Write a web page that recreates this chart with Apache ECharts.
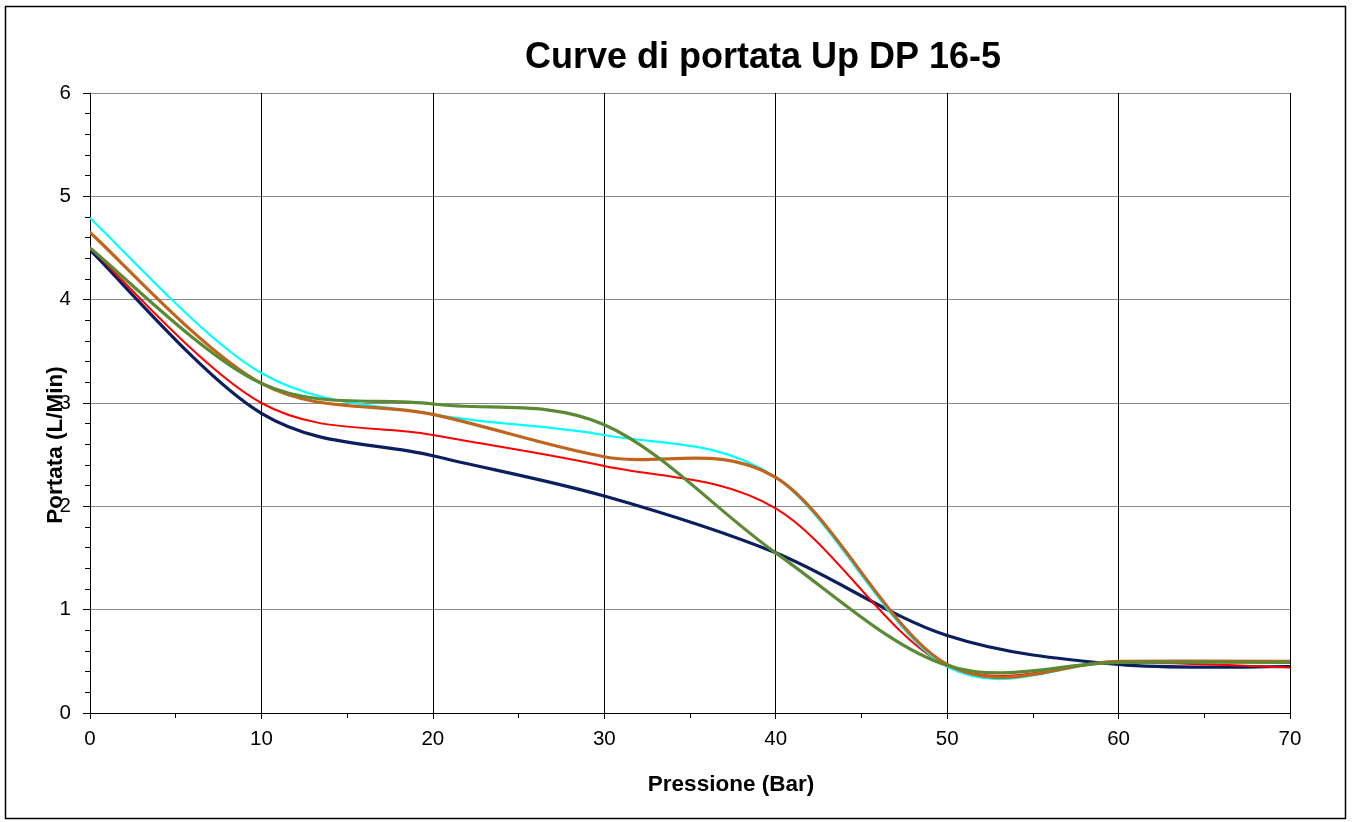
<!DOCTYPE html>
<html>
<head>
<meta charset="utf-8">
<script src="https://cdn.jsdelivr.net/npm/echarts@6/dist/echarts.min.js"></script>
<style>
html,body{margin:0;padding:0;background:#fff;}
#chart{width:1352px;height:822px;}
</style>
</head>
<body>
<div id="chart"></div>
<script>
const pressure = [0, 10, 20, 30, 40, 50, 60, 70];
const seriesNavy   = [4.48, 2.90, 2.49, 2.10, 1.55, 0.75, 0.47, 0.45];
const seriesRed    = [4.50, 3.00, 2.69, 2.39, 1.98, 0.46, 0.49, 0.44];
const seriesCyan   = [4.79, 3.29, 2.89, 2.69, 2.28, 0.45, 0.50, 0.50];
const seriesOrange = [4.65, 3.19, 2.89, 2.48, 2.28, 0.47, 0.50, 0.50];
const seriesGreen  = [4.50, 3.19, 2.99, 2.79, 1.55, 0.46, 0.49, 0.49];
const titleText = 'Curve di portata Up DP 16-5';
const xName = 'Pressione (Bar)';
const yName = 'Portata (L/Min)';

const pairs = arr => pressure.map((x, i) => [x, arr[i]]);

// Excel-style smoothed line: cubic Bezier segments with Catmull-Rom control points,
// positioned through the chart's own coordinate system (api.coord).
function curve(arr, color, width) {
  const data = pairs(arr);
  const n = data.length;
  return {
    type: 'custom',
    data: data,
    encode: { x: 0, y: 1 },
    clip: true,
    renderItem: function (params, api) {
      const i = params.dataIndex;
      if (i >= n - 1) return null;
      const pt = k => api.coord(data[Math.max(0, Math.min(n - 1, k))]);
      const a = pt(i - 1), b = pt(i), c = pt(i + 1), d = pt(i + 2);
      const t = 1 / 6;
      return {
        type: 'bezierCurve',
        shape: {
          x1: b[0], y1: b[1], x2: c[0], y2: c[1],
          cpx1: b[0] + (c[0] - a[0]) * t, cpy1: b[1] + (c[1] - a[1]) * t,
          cpx2: c[0] - (d[0] - b[0]) * t, cpy2: c[1] - (d[1] - b[1]) * t
        },
        style: { stroke: color, lineWidth: width, fill: null, lineCap: 'round' }
      };
    }
  };
}

const chart = echarts.init(document.getElementById('chart'));
chart.setOption({
  backgroundColor: '#fff',
  animation: false,
  grid: { left: 90, right: 62, top: 93, bottom: 109 },
  xAxis: {
    type: 'value', min: 0, max: 70, interval: 10,
    axisLine: { show: true, lineStyle: { color: '#000', width: 1 } },
    axisTick: { show: true, length: 6, lineStyle: { color: '#000' } },
    minorTick: { show: true, splitNumber: 2, length: 5, lineStyle: { color: '#000' } },
    splitLine: { show: true, lineStyle: { color: '#000', width: 1 } },
    axisLabel: { fontFamily: 'Liberation Sans, Arial', fontSize: 20.5, color: '#000', margin: 16 }
  },
  yAxis: {
    type: 'value', min: 0, max: 6, interval: 1,
    axisLine: { show: true, onZero: false, lineStyle: { color: '#000', width: 1 } },
    axisTick: { show: true, length: 7, lineStyle: { color: '#000' } },
    minorTick: { show: true, splitNumber: 5, length: 5, lineStyle: { color: '#000' } },
    splitLine: { show: true, lineStyle: { color: '#8c8c8c', width: 1 } },
    axisLabel: { fontFamily: 'Liberation Sans, Arial', fontSize: 20.5, color: '#000', margin: 19 }
  },
  graphic: [
    { type: 'rect', shape: { x: 5.5, y: 6.5, width: 1340, height: 812 },
      style: { fill: null, stroke: '#000', lineWidth: 1.5 }, silent: true, z: -1 },
    { type: 'text', x: 763, y: 58,
      style: { text: titleText, fontFamily: 'Liberation Sans, Arial', fontSize: 36, fontWeight: 'bold',
               fill: '#000', align: 'center', verticalAlign: 'middle' } },
    { type: 'text', x: 731, y: 785,
      style: { text: xName, fontFamily: 'Liberation Sans, Arial', fontSize: 22.5, fontWeight: 'bold',
               fill: '#000', align: 'center', verticalAlign: 'middle' } },
    { type: 'text', x: 56, y: 445, rotation: Math.PI / 2,
      style: { text: yName, fontFamily: 'Liberation Sans, Arial', fontSize: 22.5, fontWeight: 'bold',
               fill: '#000', align: 'center', verticalAlign: 'middle' } }
  ],
  series: [
    curve(seriesNavy, '#0b1f5e', 3.2),
    curve(seriesRed, '#ff0000', 2),
    curve(seriesCyan, '#00ffff', 2.2),
    curve(seriesOrange, '#c0641e', 3.2),
    curve(seriesGreen, '#5b8a35', 3.2)
  ]
});
</script>
</body>
</html>
